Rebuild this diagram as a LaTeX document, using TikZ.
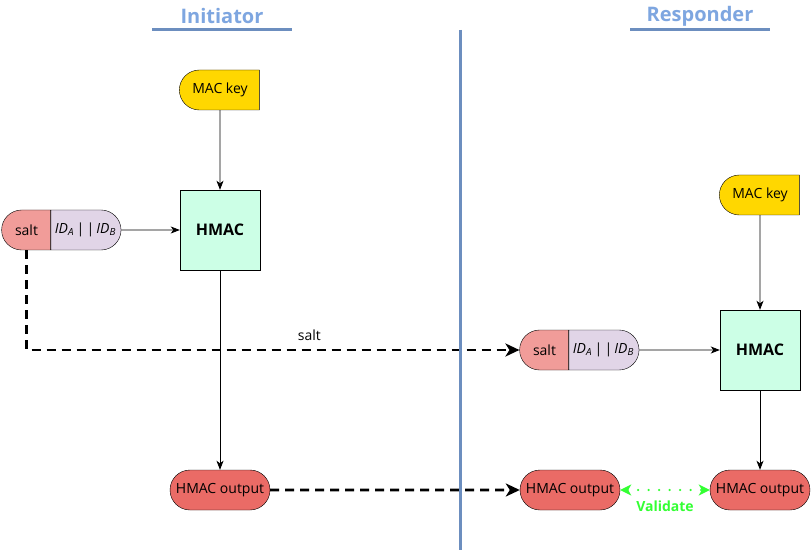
\documentclass[tikz,border=0pt]{standalone}
\usepackage{fontspec}
\setmainfont{Open Sans}
\usepackage{tikz}
\usetikzlibrary{arrows.meta}
\usetikzlibrary{positioning}
\usetikzlibrary{shapes.misc}

\definecolor{KeyGold}{HTML}{FFD700}
\definecolor{HmacMint}{HTML}{CCFFE6}
\definecolor{SaltRed}{HTML}{F19C99}
\definecolor{IdLilac}{HTML}{E1D5E7}
\definecolor{OutRed}{HTML}{EA6B66}
\definecolor{SepBlue}{HTML}{6C8EBF}
\definecolor{TitleBlue}{HTML}{7EA6E0}
\definecolor{OkGreen}{HTML}{33FF33}

\tikzset{
  keybox/.style={rounded rectangle, rounded rectangle right arc=none, draw, fill=KeyGold,
    minimum width=80pt, minimum height=40pt, inner sep=0pt},
  hmacbox/.style={rectangle, draw, fill=HmacMint, minimum size=80pt,
    font=\fontsize{16}{18}\selectfont\bfseries},
  saltbox/.style={rounded rectangle, rounded rectangle right arc=none, draw, fill=SaltRed,
    minimum width=49pt, minimum height=40pt, inner sep=0pt},
  idbox/.style={rounded rectangle, rounded rectangle left arc=none, draw, fill=IdLilac,
    minimum width=70pt, minimum height=40pt, inner sep=0pt},
  outbox/.style={rounded rectangle, draw, fill=OutRed,
    minimum width=100pt, minimum height=40pt, inner sep=0pt},
  partyname/.style={text=TitleBlue, font=\fontsize{20}{22}\selectfont\bfseries},
  thinarrow/.style={-{Stealth[length=9pt,width=7pt,inset=2.5pt]}, line width=0.8pt},
  sendarrow/.style={-{Stealth[length=14pt,width=13pt,inset=4pt]}, line width=2.6pt,
    dash pattern=on 9pt off 6pt},
  checkarrow/.style={{Stealth[length=11pt,width=11pt,inset=3pt]}-{Stealth[length=11pt,width=11pt,inset=3pt]},
    OkGreen, line width=2.4pt, line cap=round, dash pattern=on 0pt off 10.5pt}
}
\newcommand{\idpair}{{\itshape ID\textsubscript{A}\,|\,|\,ID\textsubscript{B}}}

\begin{document}
\begin{tikzpicture}[x=1pt,y=-1pt,every node/.style={font=\fontsize{14}{16}\selectfont}]
\useasboundingbox[fill=white] (0,0) rectangle (811,553);

% headings
\node[partyname] (initName) at (222,16) {Initiator};
\node[partyname] (respName) at (700,16) {Responder};
\draw[SepBlue,line width=3pt] (152,30) -- (292,30);
\draw[SepBlue,line width=3pt] (630,30) -- (770,30);

% initiator side
\node[keybox] (keyA) at (220,90) {MAC key};
\node[hmacbox] (hmacA) at (220,230) {HMAC};
\node[saltbox] (saltA) at (26.5,230) {salt};
\node[idbox,right=0pt of saltA] (idsA) {\idpair};
\node[outbox] (outA) at (220,490) {HMAC output};

% responder side
\node[keybox] (keyB) at (760,195) {MAC key};
\node[hmacbox] (hmacB) at (760,350) {HMAC};
\node[saltbox] (saltB) at (544.5,350) {salt};
\node[idbox,right=0pt of saltB] (idsB) {\idpair};
\node[outbox] (outRecv) at (570,490) {HMAC output};
\node[outbox] (outCalc) at (760,490) {HMAC output};

\draw[thinarrow] (keyA) -- (hmacA);
\draw[thinarrow] (idsA) -- (hmacA);
\draw[thinarrow] (hmacA) -- (outA);
\draw[thinarrow] (keyB) -- (hmacB);
\draw[thinarrow] (idsB) -- (hmacB);
\draw[thinarrow] (hmacB) -- (outCalc);

% messages
\draw[sendarrow] (saltA.south) |- node[pos=0.787,above=5pt] {salt} (saltB.west);
\draw[sendarrow] (outA) -- (outRecv);
\draw[checkarrow] (outRecv) -- node[below=6pt,text=OkGreen,font=\fontsize{14}{16}\selectfont\bfseries] {Validate} (outCalc);

\draw[SepBlue,line width=3pt] (460,30) -- (460,550);
\end{tikzpicture}
\end{document}
